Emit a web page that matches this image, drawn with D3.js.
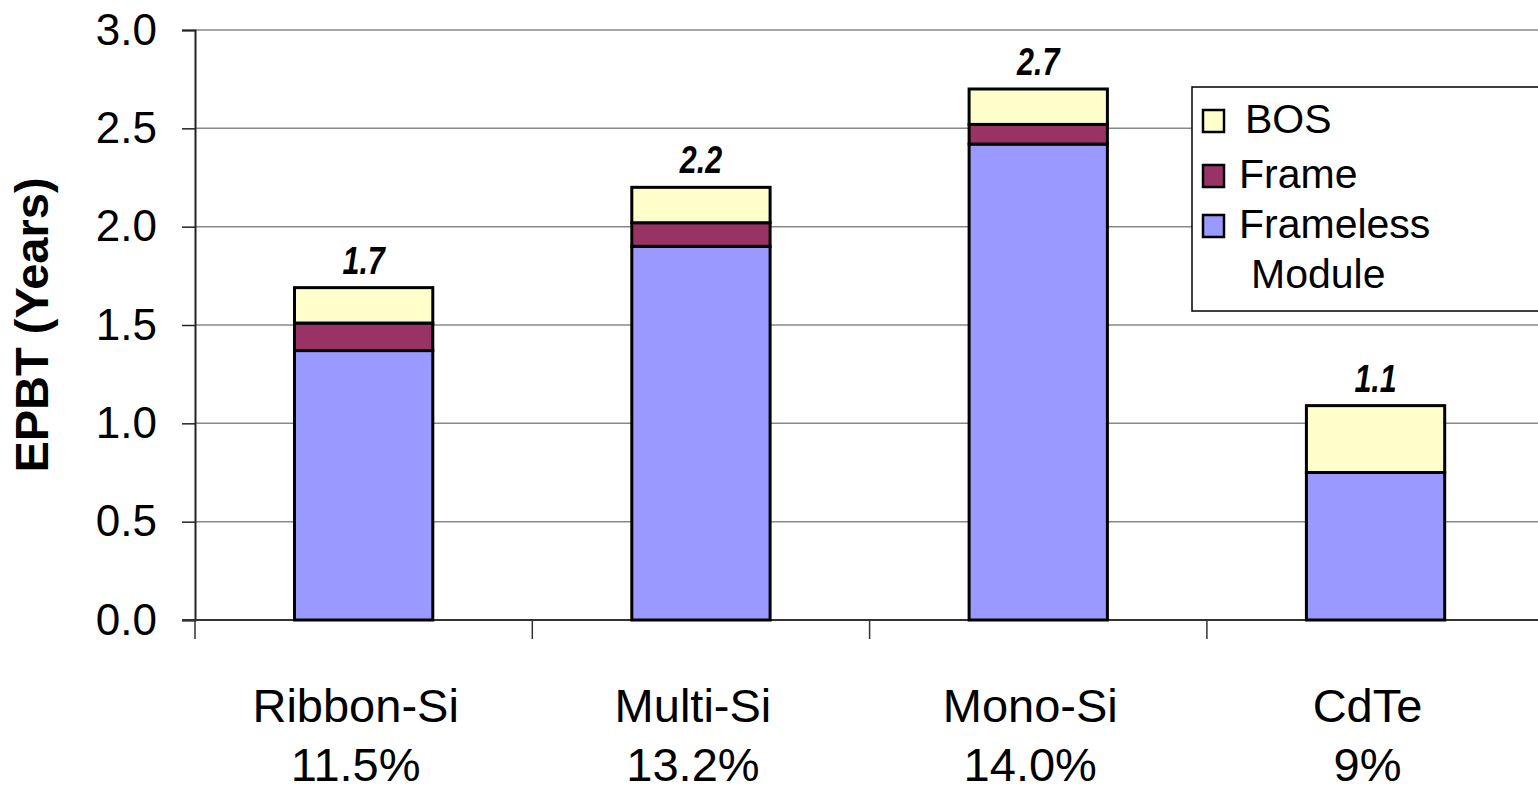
<!DOCTYPE html>
<html lang="en">
<head>
<meta charset="UTF-8"/>
<title>EPBT</title>
<script src="https://d3js.org/d3.v7.min.js"></script>
<style>
    body { margin: 0; background: #fff; }
    svg text { font-family: "Liberation Sans", Arial, sans-serif; fill: #000; }
</style>
</head>
<body>
<script>
    var categories = ["Ribbon-Si", "Multi-Si", "Mono-Si", "CdTe"];
    var efficiencies = ["11.5%", "13.2%", "14.0%", "9%"];
    var frameless = [1.37, 1.90, 2.42, 0.75];
    var frame = [0.14, 0.12, 0.10, 0];
    var bos = [0.18, 0.18, 0.18, 0.34];
    var totalLabels = ["1.7", "2.2", "2.7", "1.1"];
    var yTicks = [0, 0.5, 1.0, 1.5, 2.0, 2.5, 3.0];

    var seriesNames = ["Frameless Module", "Frame", "BOS"];
    var colors = {"Frameless Module": "#9999ff", "Frame": "#993366", "BOS": "#ffffcc"};

    var w = 1538, h = 790;
    var plotLeft = 195, plotTop = 30, plotBottom = 620;
    var bandW = 337.3;

    var rows = categories.map(function(c, i) {
        return {cat: c, "Frameless Module": frameless[i], "Frame": frame[i], "BOS": bos[i]};
    });

    var xScale = d3.scaleBand()
        .domain(categories)
        .range([plotLeft, plotLeft + bandW * categories.length])
        .padding(0);

    var yScale = d3.scaleLinear()
        .domain([0, 3])
        .range([plotBottom, plotTop]);

    var svg = d3.select("body").append("svg")
        .attr("width", w)
        .attr("height", h);

    // gridlines
    svg.append("g")
        .selectAll("line")
        .data(yTicks.filter(function(d) { return d > 0; }))
        .enter().append("line")
        .attr("x1", plotLeft).attr("x2", w)
        .attr("y1", function(d) { return yScale(d); })
        .attr("y2", function(d) { return yScale(d); })
        .attr("stroke", "#888")
        .attr("stroke-width", 1.5);

    // y axis
    var yAxis = svg.append("g")
        .attr("transform", "translate(" + plotLeft + ",0)")
        .call(d3.axisLeft(yScale).tickValues(yTicks).tickFormat(d3.format(".1f")).tickSize(13).tickPadding(25));
    yAxis.select(".domain").attr("stroke", "#222").attr("stroke-width", 2);
    yAxis.selectAll(".tick line").attr("stroke", "#222").attr("stroke-width", 1.5);
    yAxis.selectAll(".tick text")
        .style("font-size", "44px")
        .style("font-family", "'Liberation Sans', Arial, sans-serif")
        .attr("fill", "#000");

    // x axis line and boundary ticks
    svg.append("line")
        .attr("x1", plotLeft - 13).attr("x2", w)
        .attr("y1", plotBottom).attr("y2", plotBottom)
        .attr("stroke", "#333").attr("stroke-width", 2);
    svg.append("g")
        .selectAll("line")
        .data(categories)
        .enter().append("line")
        .attr("x1", function(d) { return xScale(d); })
        .attr("x2", function(d) { return xScale(d); })
        .attr("y1", plotBottom).attr("y2", plotBottom + 19)
        .attr("stroke", "#333").attr("stroke-width", 1.5);

    // stacked bars
    var stack = d3.stack().keys(seriesNames);
    var layers = stack(rows);
    var barW = xScale.bandwidth() * 0.41;

    svg.append("g")
        .selectAll("g")
        .data(layers)
        .enter().append("g")
        .attr("fill", function(d) { return colors[d.key]; })
        .selectAll("rect")
        .data(function(d) { return d.filter(function(s) { return s[1] - s[0] > 0; }); })
        .enter().append("rect")
        .attr("x", function(d) { return xScale(d.data.cat) + (xScale.bandwidth() - barW) / 2; })
        .attr("y", function(d) { return yScale(d[1]); })
        .attr("width", barW)
        .attr("height", function(d) { return yScale(d[0]) - yScale(d[1]); })
        .attr("stroke", "#000")
        .attr("stroke-width", 3);

    // total labels (narrow bold italic)
    svg.append("g")
        .selectAll("text")
        .data(rows)
        .enter().append("text")
        .attr("transform", function(d, i) {
            var cx = xScale(d.cat) + xScale.bandwidth() / 2;
            var cy = yScale(frameless[i] + frame[i] + bos[i]) - 14;
            return "translate(" + cx + "," + cy + ") scale(0.8,1)";
        })
        .attr("text-anchor", "middle")
        .style("font-size", "38px")
        .style("font-weight", "bold")
        .style("font-style", "italic")
        .text(function(d, i) { return totalLabels[i]; });

    // category labels
    var catText = svg.append("g")
        .selectAll("text")
        .data(categories)
        .enter().append("text")
        .attr("text-anchor", "middle")
        .attr("x", function(d) { return xScale(d) + xScale.bandwidth() / 2 - 8; })
        .attr("y", 722)
        .style("font-size", "47px");
    catText.append("tspan").text(function(d) { return d; });
    catText.append("tspan")
        .attr("x", function(d) { return xScale(d) + xScale.bandwidth() / 2 - 8; })
        .attr("dy", 59)
        .text(function(d, i) { return efficiencies[i]; });

    // y axis title
    svg.append("text")
        .attr("transform", "translate(48," + ((plotTop + plotBottom) / 2) + ") rotate(-90)")
        .attr("text-anchor", "middle")
        .style("font-size", "47px")
        .style("font-weight", "bold")
        .text("EPBT (Years)");

    // legend
    var legend = svg.append("g");
    legend.append("rect")
        .attr("x", 1192).attr("y", 87)
        .attr("width", 360).attr("height", 224)
        .attr("fill", "#fff")
        .attr("stroke", "#000")
        .attr("stroke-width", 1.5);

    var legendItems = [
        {key: "BOS", label: ["BOS"], tx: 1245, y: 133},
        {key: "Frame", label: ["Frame"], tx: 1239, y: 188},
        {key: "Frameless Module", label: ["Frameless", "Module"], tx: 1239, y: 238}
    ];
    var li = legend.selectAll("g.item")
        .data(legendItems)
        .enter().append("g").attr("class", "item");
    li.append("rect")
        .attr("x", 1203)
        .attr("y", function(d) { return d.y - 23; })
        .attr("width", 21).attr("height", 22)
        .attr("fill", function(d) { return colors[d.key]; })
        .attr("stroke", "#000")
        .attr("stroke-width", 2.5);
    var lt = li.append("text")
        .attr("y", function(d) { return d.y; })
        .style("font-size", "41px");
    lt.each(function(d) {
        var t = d3.select(this);
        d.label.forEach(function(s, j) {
            t.append("tspan")
                .attr("x", j === 0 ? d.tx : 1251)
                .attr("dy", j === 0 ? 0 : 50)
                .text(s);
        });
    });
</script>
</body>
</html>
